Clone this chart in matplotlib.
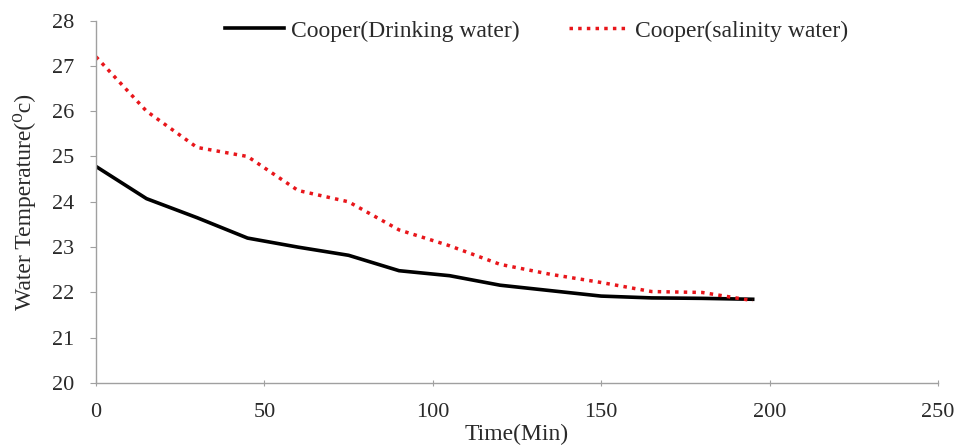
import matplotlib
matplotlib.use("Agg")
import matplotlib.pyplot as plt

time_min = [0, 15, 30, 45, 60, 75, 90, 105, 120, 135, 150, 165, 180, 195]
drinking = [24.78, 24.07, 23.65, 23.2, 23.0, 22.82, 22.48, 22.37, 22.16, 22.04, 21.92, 21.88, 21.87, 21.85]
salinity = [27.2, 26.0, 25.2, 25.0, 24.25, 24.0, 23.38, 23.03, 22.62, 22.4, 22.22, 22.02, 22.0, 21.82]
labels = ["Cooper(Drinking water)", "Cooper(salinity water)"]

plt.rcParams['font.family'] = ['Liberation Serif', 'DejaVu Serif']

fig = plt.figure(figsize=(9.6, 4.46), dpi=100)
ax = fig.add_axes([0.1, 0.141, 0.877, 0.813])

ax.plot(time_min, drinking, color='black', lw=2.6, label=labels[0], solid_joinstyle='round')
ax.plot(time_min, salinity, color='#e8161b', lw=2.5, linestyle=(0, (1, 1.5)), label=labels[1])

ax.set_xlim(0, 250)
ax.set_ylim(20, 28)
ax.set_xticks([0, 50, 100, 150, 200, 250])
ax.set_yticks(range(20, 29))

for s in ['top', 'right']:
    ax.spines[s].set_visible(False)
for s in ['left', 'bottom']:
    ax.spines[s].set_color('#a0a0a0')
    ax.spines[s].set_linewidth(1.0)

ax.tick_params(axis='y', direction='out', length=4, color='#a0a0a0', labelsize=16,
               labelcolor='#2a2a2a', pad=12)
ax.tick_params(axis='x', direction='inout', length=5, color='#a0a0a0', labelsize=16,
               labelcolor='#2a2a2a', pad=12)

ax.set_xlabel("Time(Min)", fontsize=17, color='#2a2a2a', labelpad=1)
ax.set_ylabel("Water Temperature(\u2070c)", fontsize=17, color='#2a2a2a', labelpad=11)

leg = ax.legend(loc='upper center', bbox_to_anchor=(0.523, 1.06), ncol=2, frameon=False,
                fontsize=17, handlelength=2.5, columnspacing=2.1, handletextpad=0.3)
for t in leg.get_texts():
    t.set_color('#2a2a2a')

fig.savefig("out.png", dpi=100)
